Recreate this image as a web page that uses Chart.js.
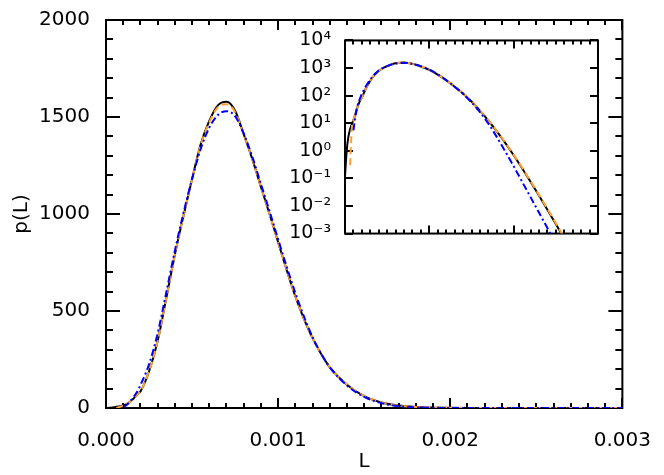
<!DOCTYPE html>
<html>
<head>
<meta charset="utf-8">
<script src="https://cdn.jsdelivr.net/npm/chart.js@4/dist/chart.umd.min.js"></script>
<style>
  html, body { margin: 0; padding: 0; background: #fff; }
  #wrap { position: relative; width: 664px; height: 475px; }
  #mainChart { position: absolute; left: 0; top: 0; }
  #insetChart { position: absolute; left: 270px; top: 24px; }
</style>
</head>
<body>
<div id="wrap">
  <canvas id="mainChart" width="664" height="475"></canvas>
  <canvas id="insetChart" width="345" height="226"></canvas>
</div>
<script>
// grille des valeurs de L
const L = [0, 0.00002, 0.00004, 0.00006, 0.00008, 0.0001, 0.00012, 0.00015, 0.00018, 0.0002,
  0.00025, 0.0003, 0.00035, 0.0004, 0.00045, 0.0005, 0.00055, 0.0006, 0.00065, 0.0007,
  0.00075, 0.0008, 0.00085, 0.0009, 0.00095, 0.001, 0.00105, 0.0011, 0.00115, 0.0012,
  0.00125, 0.0013, 0.0014, 0.0015, 0.0016, 0.0017, 0.0018, 0.0019, 0.002, 0.0021,
  0.0022, 0.0023, 0.0024, 0.0025, 0.0026, 0.0027, 0.0028, 0.0029, 0.003];

// courbe noire (trait plein)
const pBlack = [0.12, 1.0, 3.2, 6, 9, 13, 20, 40, 68, 85,
  188, 345, 565, 790, 990, 1180, 1360, 1480, 1560, 1578,
  1532, 1412, 1283, 1140, 1000, 855, 710, 575, 460, 360,
  278, 210, 120, 61, 28.6, 12.5, 5.1, 1.93, 0.686, 0.232,
  0.0752, 0.0238, 0.00735, 0.00222, 0.00065, 0.00019, 0.000054, 0.000015, 0.000004];

// courbe orange (tirets)
const pOrange = [null, null, null, 0.3, 6, 12.8, 20, 40, 68, 86,
  189, 346, 566, 790, 990, 1178, 1355, 1472, 1550, 1566,
  1525, 1410, 1282, 1140, 1000, 855, 711, 576, 461, 361,
  279, 211, 121, 62, 29, 12.7, 5.2, 1.98, 0.71, 0.242,
  0.079, 0.0252, 0.0078, 0.00237, 0.0007, 0.0002, 0.000058, 0.000016, 0.0000045];

// courbe bleue (tiret-point)
const pBlue = [null, null, null, null, null, 5.5, 15, 45, 82, 118,
  225, 385, 595, 810, 1005, 1180, 1335, 1445, 1510, 1530,
  1505, 1415, 1295, 1155, 1015, 870, 728, 593, 472, 366,
  280, 210, 116, 57, 25, 9.7, 3.16, 0.955, 0.275, 0.076,
  0.0209, 0.00575, 0.00158, 0.000427, 0.000115, 0.00003, 0.0000079, 0.000002, 0.0000005];

const xTickVals = [0, 0.001, 0.002, 0.003];
const yTickVals = [0, 500, 1000, 1500, 2000];
const insetExponents = [-3, -2, -1, 0, 1, 2, 3, 4];

const SUP = { '-': '\u207B', '0': '\u2070', '1': '\u00B9', '2': '\u00B2', '3': '\u00B3',
  '4': '\u2074', '5': '\u2075', '6': '\u2076', '7': '\u2077', '8': '\u2078', '9': '\u2079' };
function powLabel(e) {
  return '10' + String(e).split('').map(c => SUP[c]).join('');
}

function toPoints(ys) {
  return L.map((x, i) => ({ x: x, y: ys[i] }));
}

function makeDatasets() {
  return [
    { label: 'bleu', data: toPoints(pBlue), borderColor: '#0000ff', borderWidth: 2,
      borderDash: [7, 3, 2, 3], order: 0 },
    { label: 'orange', data: toPoints(pOrange), borderColor: '#ffa030', borderWidth: 2,
      borderDash: [7, 4], order: 1 },
    { label: 'noir', data: toPoints(pBlack), borderColor: '#000000', borderWidth: 2, order: 2 }
  ];
}

// cadre + graduations vers l'intérieur, placées avec les échelles de Chart.js
// (dessiné avant les courbes pour que les tirets restent visibles sur l'axe)
const frameTicks = {
  id: 'frameTicks',
  beforeDatasetsDraw(chart, args, o) {
    const { ctx, chartArea: a, scales: { x, y } } = chart;
    ctx.save();
    ctx.strokeStyle = '#000';
    ctx.lineWidth = 2;
    ctx.beginPath();
    o.xTicks.forEach(t => {
      const px = Math.round(x.getPixelForValue(t[0]));
      ctx.moveTo(px, a.bottom); ctx.lineTo(px, a.bottom - t[1]);
      ctx.moveTo(px, a.top); ctx.lineTo(px, a.top + t[1]);
    });
    o.yTicks.forEach(t => {
      const py = Math.round(y.getPixelForValue(t[0]));
      ctx.moveTo(a.left, py); ctx.lineTo(a.left + t[1], py);
      ctx.moveTo(a.right, py); ctx.lineTo(a.right - t[1], py);
    });
    ctx.stroke();
    ctx.strokeRect(a.left, a.top, a.right - a.left, a.bottom - a.top);
    ctx.restore();
  }
};

function stepTicks(min, max, step, every, lenMajor, lenMinor) {
  const out = [];
  const n = Math.round((max - min) / step);
  for (let i = 0; i <= n; i++) {
    out.push([min + i * step, i % every === 0 ? lenMajor : lenMinor]);
  }
  return out;
}

const font20 = { family: 'DejaVu Sans', size: 20, lineHeight: 1.2 };

new Chart(document.getElementById('mainChart'), {
  type: 'line',
  data: { datasets: makeDatasets() },
  options: {
    responsive: false,
    animation: false,
    events: [],
    elements: { point: { radius: 0 }, line: { cubicInterpolationMode: 'monotone', fill: false } },
    layout: { padding: { top: 12, right: 33, left: 0, bottom: 0 } },
    plugins: {
      legend: { display: false },
      tooltip: { enabled: false },
      frameTicks: {
        xTicks: stepTicks(0, 0.003, 0.0001, 10, 10, 5),
        yTicks: stepTicks(0, 2000, 100, 5, 14, 7)
      }
    },
    scales: {
      x: {
        type: 'linear', min: 0, max: 0.003,
        grid: { display: false }, border: { display: false },
        afterBuildTicks: s => { s.ticks = xTickVals.map(v => ({ value: v })); },
        afterFit: s => { s.height = 67; },
        ticks: { color: '#000', font: font20, padding: 13, maxRotation: 0,
          callback: v => v.toFixed(3) },
        title: { display: true, text: 'L', color: '#000', font: font20, padding: { top: 0, bottom: 1 } }
      },
      y: {
        type: 'linear', min: 0, max: 2000,
        grid: { display: false }, border: { display: false },
        afterBuildTicks: s => { s.ticks = yTickVals.map(v => ({ value: v })); },
        afterFit: s => { s.width = 106; },
        ticks: { color: '#000', font: font20, padding: 8, callback: v => String(v) },
        title: { display: true, text: 'p(L)', color: '#000', font: font20, padding: { top: 10, bottom: 0 } }
      }
    }
  },
  plugins: [frameTicks]
});

// encart en échelle logarithmique
new Chart(document.getElementById('insetChart'), {
  type: 'line',
  data: { datasets: makeDatasets() },
  options: {
    responsive: false,
    animation: false,
    events: [],
    elements: { point: { radius: 0 }, line: { cubicInterpolationMode: 'monotone', fill: false } },
    layout: { padding: { top: 12, right: 17, left: 0, bottom: 0 } },
    plugins: {
      legend: { display: false },
      tooltip: { enabled: false },
      frameTicks: {
        xTicks: stepTicks(0, 0.003, 0.0001, 10, 8, 4),
        yTicks: insetExponents.map(e => [Math.pow(10, e), 8])
      }
    },
    scales: {
      x: {
        type: 'linear', min: 0, max: 0.003,
        grid: { display: false }, border: { display: false },
        ticks: { display: false },
        afterFit: s => { s.height = 13; }
      },
      y: {
        type: 'logarithmic', min: 1e-3, max: 1e4,
        grid: { display: false }, border: { display: false },
        afterBuildTicks: s => { s.ticks = insetExponents.map(e => ({ value: Math.pow(10, e) })); },
        afterFit: s => { s.width = 75; },
        ticks: { color: '#000', font: { family: 'DejaVu Sans', size: 19, lineHeight: 1.1 }, padding: 6,
          callback: v => powLabel(Math.round(Math.log10(v))) }
      }
    }
  },
  plugins: [frameTicks]
});
</script>
</body>
</html>
